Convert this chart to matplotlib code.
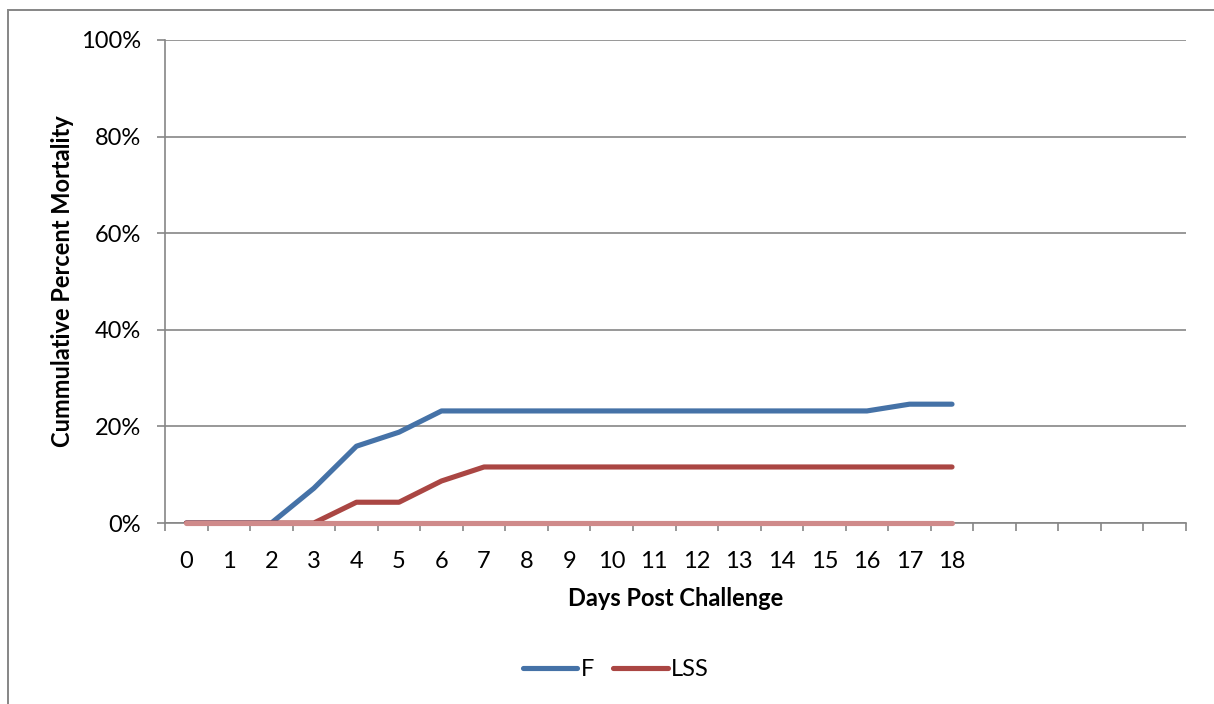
import matplotlib
matplotlib.use("Agg")
import matplotlib.pyplot as plt
from matplotlib.patches import Rectangle
from matplotlib.ticker import FixedLocator, PercentFormatter

plt.rcParams["font.family"] = ["Lato", "DejaVu Sans"]

# cumulative mortality per day, fraction of the group
days = list(range(19))
n_slots = 24  # category axis keeps empty slots after day 18
f_mort = [0, 0, 0, 0.072, 0.159, 0.188, 0.232, 0.232, 0.232, 0.232, 0.232,
          0.232, 0.232, 0.232, 0.232, 0.232, 0.232, 0.246, 0.246]
lss_mort = [0, 0, 0, 0, 0.043, 0.043, 0.087, 0.116, 0.116, 0.116, 0.116,
            0.116, 0.116, 0.116, 0.116, 0.116, 0.116, 0.116, 0.116]
ctrl_mort = [0] * 19
y_ticks = [0, 0.2, 0.4, 0.6, 0.8, 1.0]

FS = 17
W, H = 1214, 704
fig = plt.figure(figsize=(W / 100, H / 100), dpi=100)
fig.patches.append(Rectangle((8 / W, -0.1), 1.2, 1.1 - 10 / H, transform=fig.transFigure,
                             fill=False, edgecolor="#868686", lw=1.4))

ax = fig.add_axes([165 / W, (H - 523) / H, 1021 / W, 483 / H])
grey = "#868686"
ax.plot(days, f_mort, color="#4572A7", lw=3.7, solid_capstyle="round",
        solid_joinstyle="round", label="F", zorder=3)
ax.plot(days, lss_mort, color="#AA4643", lw=3.7, solid_capstyle="round",
        solid_joinstyle="round", label="LSS", zorder=3)
ax.plot(days, ctrl_mort, color="#CF8A8A", lw=3.7, solid_capstyle="round",
        label="_nolegend_", zorder=4, clip_on=False)

ax.set_xlim(-0.5, n_slots - 0.5)
ax.set_ylim(0, 1)
ax.yaxis.set_major_locator(FixedLocator(y_ticks))
ax.yaxis.set_major_formatter(PercentFormatter(1.0, decimals=0))
ax.grid(axis="y", color=grey, lw=1.2)
ax.set_axisbelow(True)

# tick marks sit between categories, labels under each day
ax.xaxis.set_major_locator(FixedLocator([i - 0.5 for i in range(n_slots + 1)]))
ax.xaxis.set_minor_locator(FixedLocator(days))
ax.set_xticklabels([])
ax.set_xticklabels([str(d) for d in days], minor=True)
ax.tick_params(axis="x", which="major", length=5.5, width=1.2, color=grey, direction="out")
ax.tick_params(axis="x", which="minor", length=0, pad=20, labelsize=FS)
ax.tick_params(axis="y", length=5.5, width=1.2, color=grey, pad=12, labelsize=FS)

for s in ("top", "right"):
    ax.spines[s].set_visible(False)
for s in ("left", "bottom"):
    ax.spines[s].set_color(grey)
    ax.spines[s].set_linewidth(1.2)

ax.set_xlabel("Days Post Challenge", fontsize=FS, fontweight="bold", labelpad=11)
ax.set_ylabel("Cummulative Percent Mortality", fontsize=FS, fontweight="bold", labelpad=5)

fig.legend(loc="center", bbox_to_anchor=(616 / W, (H - 670) / H), ncol=2, frameon=False,
           fontsize=FS, handlelength=2.3, handletextpad=0.15, columnspacing=0.8)

fig.savefig("out.png", dpi=100)
